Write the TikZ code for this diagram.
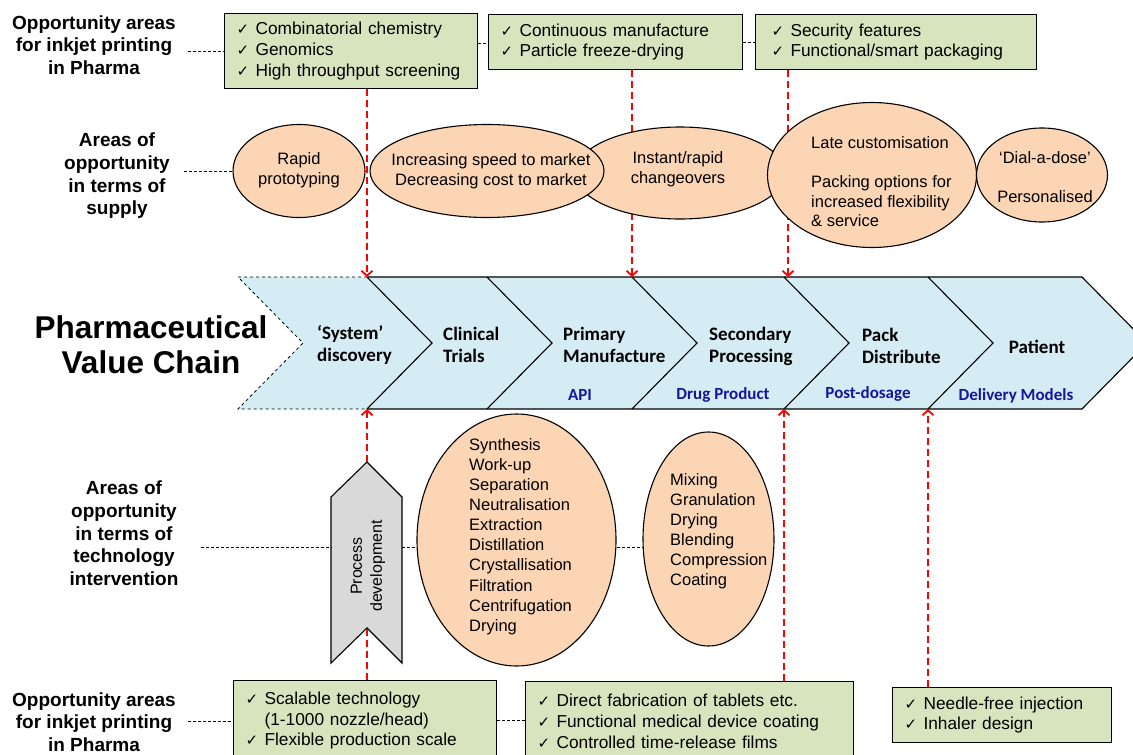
\documentclass[tikz,border=0pt]{standalone}
\usepackage{fontspec}
\setmainfont{Liberation Sans}
\newfontfamily\calib{Carlito}[Ligatures=TeX]
\newfontfamily\symb{DejaVu Sans}
\usetikzlibrary{
    shapes.geometric,
    arrows.meta,
    positioning
}
\hyphenpenalty=10000
\definecolor{boxgreen}{HTML}{D7E4BD}
\definecolor{peach}{HTML}{FCD5B5}
\definecolor{chainblue}{HTML}{D5ECF4}
\definecolor{procgrey}{HTML}{D9D9D9}
\definecolor{navy}{HTML}{16169A}
\newcommand{\tick}{\makebox[19pt][l]{\symb\fontsize{15}{15}\selectfont ✓}}
\tikzset{
    sidelabel/.style={font=\bfseries\fontsize{19}{22.7}\selectfont, align=center, inner sep=0pt},
    optbox/.style={draw, fill=boxgreen, line width=1.1pt, anchor=north west, align=left,
        inner xsep=12pt, inner ysep=0pt, font=\fontsize{17.3}{20.8}\selectfont},
    opp/.style={ellipse, draw, fill=peach, line width=1.1pt, inner sep=0pt},
    opptext/.style={align=center, inner sep=0pt, font=\fontsize{16.5}{19.7}\selectfont},
    chainlbl/.style={anchor=west, align=left, inner sep=0pt, font=\calib\bfseries\fontsize{19}{22}\selectfont},
    chainsub/.style={inner sep=0pt, text=navy, font=\calib\bfseries\fontsize{17}{17}\selectfont},
    linkdash/.style={dash pattern=on 3pt off 2pt, line width=0.8pt},
    redflow/.style={red, line width=1.8pt, dash pattern=on 7pt off 4pt},
    redarrow/.style={redflow, -{Straight Barb[length=5pt,width=11pt]}}
}

\begin{document}
\begin{tikzpicture}[x=1pt, y=-1pt]
    \useasboundingbox (0,0) rectangle (1133,755);
    \clip (0,0) rectangle (1133,755);

    % value chain
    \fill[chainblue] (238,277) -- (1082,277) -- (1147,343) -- (1082,409) -- (238,409) -- (303,343) -- cycle;
    \draw[dashed, line width=0.8pt] (367,277) -- (238,277) -- (303,343) -- (238,409) -- (367,409);
    \draw[line width=1.1pt] (367,277) -- (1082,277) -- (1147,343) -- (1082,409) -- (367,409);
    \foreach \jx in {367,487,632,784,928} {
        \draw[line width=1.1pt] (\jx,277) -- ++(65,66) -- ++(-65,66);
    }
    \coordinate (j1t) at (367,277);
    \coordinate (j3t) at (632,277);
    \coordinate (j4t) at (788,277);
    \coordinate (j1b) at (367,409);
    \coordinate (j4b) at (784,409);
    \coordinate (j5b) at (928,409);

    \node[chainlbl] (sysdisc) at (317,344.5) {‘System’\\discovery};
    \node[chainlbl] (clin) at (443,344.5) {Clinical\\Trials};
    \node[chainlbl] (prim) at (563,344.5) {Primary\\Manufacture};
    \node[chainlbl] (second) at (709,346) {Secondary\\Processing};
    \node[chainlbl] (pack) at (862,346) {Pack\\Distribute};
    \node[chainlbl, anchor=center] (patient) at (1037,347) {Patient};
    \node[chainsub] (api) at (580,395) {API};
    \node[chainsub] (drug) at (723,395) {Drug Product};
    \node[chainsub] (post) at (868,394) {Post-dosage};
    \node[chainsub] (deliv) at (1016,396) {Delivery Models};

    \node[font=\bfseries\fontsize{31.5}{35}\selectfont, align=center, inner sep=0pt] (title) at (151,345) {Pharmaceutical\\Value Chain};

    % top boxes
    \node[optbox, text width=229pt, minimum height=75pt] (ob1) at (224,13)
        {\tick Combinatorial chemistry\\\tick Genomics\\\tick High throughput screening};
    \node[optbox, text width=230pt, minimum height=55pt] (ob2) at (488,14)
        {\tick Continuous manufacture\\\tick Particle freeze-drying};
    \node[optbox, text width=257pt, minimum height=55pt] (ob3) at (755,14)
        {\hspace*{4pt}\tick Security features\\\hspace*{4pt}\tick Functional/smart packaging};

    \draw[redarrow] (ob1.south -| j1t) -- (j1t);
    \draw[redarrow] (ob2.south -| j3t) -- (j3t);
    \draw[redarrow] (ob3.south -| j4t) -- (j4t);

    % supply ellipses
    \node[opp, minimum width=210pt, minimum height=92pt] (e3) at (680,173) {};
    \node[opp, minimum width=234pt, minimum height=93pt] (e2) at (487,171) {};
    \node[opp, minimum width=132pt, minimum height=93pt] (e1) at (299,171) {};
    \node[opp, minimum width=209pt, minimum height=145pt] (e4) at (872,175) {};
    \node[opp, minimum width=131pt, minimum height=94pt] (e5) at (1042,175) {};
    \node[opptext] (e1t) at (299,170) {Rapid\\prototyping};
    \node[opptext] (e2t) at (491,171.5) {Increasing speed to market\\Decreasing cost to market};
    \node[opptext] (e3t) at (678,169) {Instant/rapid\\changeovers};
    \node[opptext, align=left, anchor=west] (e4t) at (811,181.5)
        {Late customisation\\[19.5pt]Packing options for\\increased flexibility\\\& service};
    \node[opptext] (e5t) at (1045,177) {`Dial-a-dose'\\[19.5pt]Personalised};

    % side labels
    \node[sidelabel] (lab1) at (94,45) {Opportunity areas\\for inkjet printing\\in Pharma};
    \node[sidelabel] (lab2) at (117,176) {Areas of\\opportunity\\in terms of\\supply};
    \node[sidelabel] (lab3) at (124,533.5) {Areas of\\opportunity\\in terms of\\technology\\intervention};
    \node[sidelabel] (lab4) at (94,722) {Opportunity areas\\for inkjet printing\\in Pharma};

    \draw[linkdash] ([xshift=12pt]lab1.east |- ob1.west) -- (ob1.west);
    \draw[linkdash] (ob1.east |- 0,43) -- (ob2.west |- 0,43);
    \draw[linkdash] (ob2.east |- 0,42) -- (ob3.west |- 0,42);
    \draw[linkdash] ([xshift=14pt]lab2.east |- e1.west) -- (e1.west);

    % technology ellipses
    \node[opp, minimum width=199pt, minimum height=252pt] (t1) at (516.5,540) {};
    \node[opp, minimum width=131pt, minimum height=214pt] (t2) at (708.5,539) {};
    \node[opptext, align=left, anchor=west, font=\fontsize{16.5}{20.1}\selectfont] (t1t) at (469,536.5)
        {Synthesis\\Work-up\\Separation\\Neutralisation\\Extraction\\Distillation\\Crystallisation\\Filtration\\Centrifugation\\Drying};
    \node[opptext, align=left, anchor=west, font=\fontsize{16.5}{20}\selectfont] (t2t) at (670,531.5)
        {Mixing\\Granulation\\Drying\\Blending\\Compression\\Coating};

    % process development
    \draw[fill=procgrey, line width=1.1pt] (367,462) -- (402,497) -- (402,663) -- (367,628) -- (331,663) -- (331,497) -- cycle;
    \coordinate (pdtop) at (367,462);
    \coordinate (pdnotch) at (367,628);
    \coordinate (pdwest) at (331,547);
    \coordinate (pdeast) at (402,547);
    \node[rotate=90, align=center, inner sep=0pt, font=\fontsize{16}{20}\selectfont] (procdev) at (368,566) {Process\\development};

    \draw[linkdash] ([xshift=22pt]lab3.east |- pdwest) -- (pdwest);
    \draw[linkdash] (pdeast) -- (pdeast -| t1.west);
    \draw[linkdash] (t1.east |- pdeast) -- (t2.west |- pdeast);

    % bottom boxes
    \node[optbox, text width=239pt, minimum height=80pt] (ob4) at (233,680)
        {\tick Scalable technology\\\hspace*{19pt}(1-1000 nozzle/head)\\\tick Flexible production scale};
    \node[optbox, text width=304pt, minimum height=80pt] (ob5) at (525,681)
        {\tick Direct fabrication of tablets etc.\\\tick Functional medical device coating\\\tick Controlled time-release films};
    \node[optbox, text width=195pt, minimum height=55pt] (ob6) at (892,687)
        {\tick Needle-free injection\\\tick Inhaler design};

    \draw[redarrow] (pdtop) -- (j1b);
    \draw[redflow] (ob4.north -| pdnotch) -- (pdnotch);
    \draw[redarrow] (ob5.north -| j4b) -- (j4b);
    \draw[redarrow] (ob6.north -| j5b) -- (j5b);

    \draw[linkdash] ([xshift=12pt]lab4.east |- 0,721) -- (ob4.west |- 0,721);
    \draw[linkdash] (ob4.east |- 0,720) -- (ob5.west |- 0,720);
\end{tikzpicture}
\end{document}
